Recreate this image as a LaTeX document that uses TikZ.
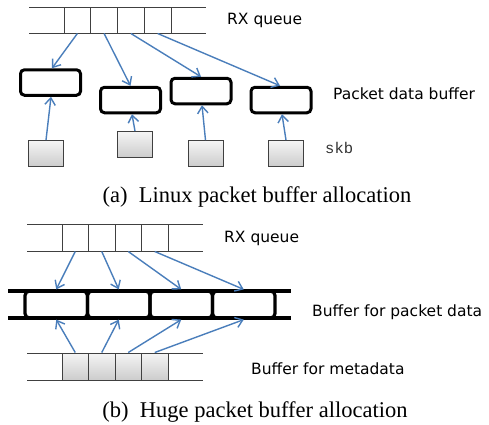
\documentclass[tikz,border=0pt]{standalone}
\usepackage{fontspec}
\setmainfont{Liberation Serif}
\newfontfamily\dvs{DejaVu Sans}
\newfontfamily\monofnt{Liberation Mono}
\usetikzlibrary{arrows.meta,calc}
\definecolor{arrowblue}{HTML}{4A7EBB}
\definecolor{qline}{HTML}{404040}
\begin{document}
\begin{tikzpicture}[x=1pt,y=-1pt,
  qcell/.style={draw=qline, line width=1pt, minimum width=26.75pt, minimum height=26pt, inner sep=0pt},
  mcell/.style={qcell, minimum width=26.5pt, minimum height=27pt},
  gcell/.style={mcell, top color=gray!8, bottom color=gray!40},
  pbuf/.style={draw=black, line width=3pt, rounded corners=4pt, minimum width=60pt, minimum height=25.5pt, inner sep=0pt},
  bandcell/.style={draw=black, line width=3.2pt, rounded corners=4.5pt, minimum width=62.5pt, minimum height=27pt, inner sep=0pt},
  skbbox/.style={draw=qline, line width=0.9pt, top color=gray!8, bottom color=gray!40, minimum width=35pt, minimum height=26pt, inner sep=0pt},
  ptr/.style={arrowblue, line width=1.4pt, -{Straight Barb[length=7pt,width=10.5pt]}},
  qrule/.style={qline, line width=1pt},
  lbl/.style={font=\dvs\fontsize{15.5}{18}\selectfont, anchor=west, inner sep=0pt},
  captext/.style={font=\fontsize{22.5}{26}\selectfont, anchor=base, inner sep=0pt}
]
\useasboundingbox (0,0) rectangle (489,424);

% ---------- (a) ----------
\draw[qrule] (29,7) -- (206,7) (29,33) -- (206,33);
\foreach \i/\x in {1/77.375,2/104.125,3/130.875,4/157.625}
  \node[qcell] (qa\i) at (\x,20) {};

\node[pbuf] (ba1) at (50.5,82.5) {};
\node[pbuf] (ba2) at (130.5,100) {};
\node[pbuf] (ba3) at (201,91) {};
\node[pbuf] (ba4) at (281,100) {};

\node[skbbox] (sa1) at (46,153.5) {};
\node[skbbox] (sa2) at (135,144.5) {};
\node[skbbox] (sa3) at (205.5,153.5) {};
\node[skbbox] (sa4) at (286,153.5) {};

\draw[ptr] (qa1.south) -- ($(ba1.north)+(1.5,0)$);
\draw[ptr] (qa2.south) -- (ba2.north);
\draw[ptr] (qa3.south) -- (ba3.north);
\draw[ptr] (qa4.south) -- ($(ba4.north)+(-1,0)$);

\draw[ptr] (sa1.north) -- ($(ba1.south)+(0.5,0)$);
\draw[ptr] (sa2.north) -- ($(ba2.south)+(1.5,0)$);
\draw[ptr] (sa3.north) -- ($(ba3.south)+(1,0)$);
\draw[ptr] (sa4.north) -- ($(ba4.south)+(1,0)$);

\node[lbl] (rxa) at (227,20) {RX queue};
\node[lbl] (pdb) at (333,94) {Packet data buffer};
\node[anchor=west, inner sep=0pt, text=black!80, font=\monofnt\fontsize{15.5}{18}\selectfont] (skbl) at (325,148) {skb};
\node[captext] (capa) at (257,202) {(a)\hspace{0.5em}Linux packet buffer allocation};

% ---------- (b) ----------
\draw[qrule] (27,224) -- (203,224) (27,251) -- (203,251);
\foreach \i/\x in {1/75.25,2/101.75,3/128.25,4/154.75}
  \node[mcell] (qb\i) at (\x,237.5) {};

\draw[black, line width=3.2pt] (8,291) -- (291,291) (8,318) -- (291,318);
\foreach \i/\x in {1/56.25,2/118.75,3/181.25,4/243.75}
  \node[bandcell] (pb\i) at (\x,304.5) {};

\draw[qrule] (27,353) -- (203,353) (27,380) -- (203,380);
\foreach \i/\x in {1/75.25,2/101.75,3/128.25,4/154.75}
  \node[gcell] (mb\i) at (\x,366.5) {};

\foreach \i in {1,2,3,4} {
  \draw[ptr] (qb\i.south) -- (pb\i.north);
  \draw[ptr] (mb\i.north) -- (pb\i.south);
}

\node[lbl] (rxb) at (224,238) {RX queue};
\node[lbl] (bpd) at (312,312) {Buffer for packet data};
\node[lbl] (bmd) at (251,369) {Buffer for metadata};
\node[captext] (capb) at (255,417) {(b)\hspace{0.5em}Huge packet buffer allocation};
\end{tikzpicture}
\end{document}
